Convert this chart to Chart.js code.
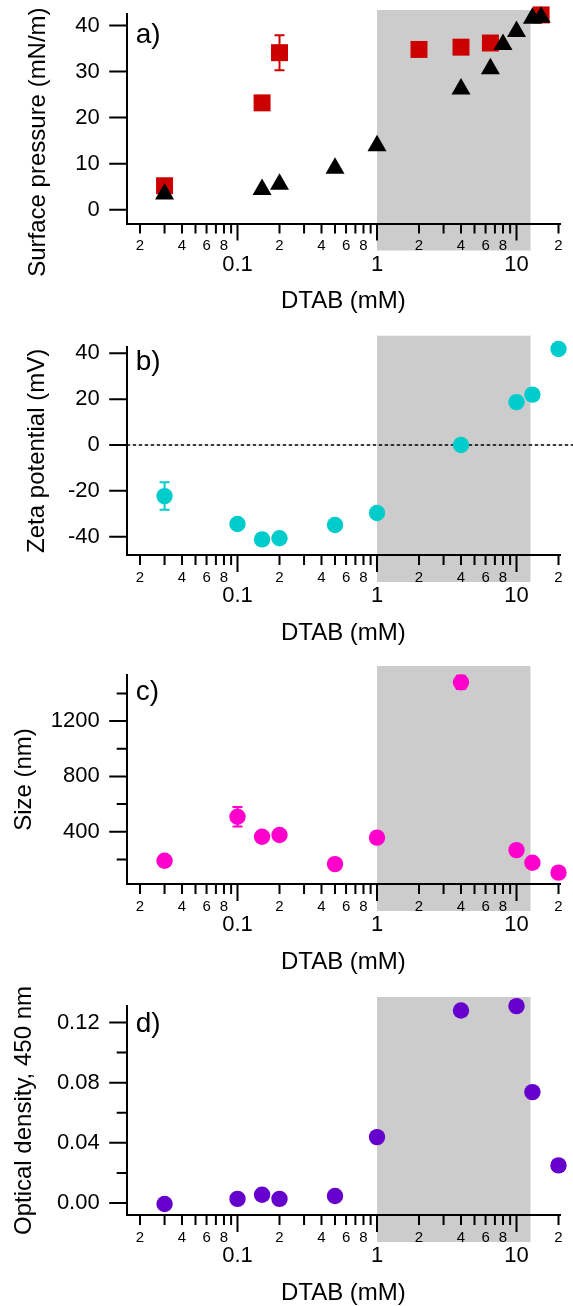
<!DOCTYPE html>
<html lang="en">
<head>
<meta charset="utf-8">
<title>DTAB series</title>
<script src="https://cdn.jsdelivr.net/npm/chart.js@4.4.1/dist/chart.umd.min.js"></script>
<style>
  html, body { margin: 0; padding: 0; background: #fff; overflow: hidden; }
  #figure { position: relative; width: 573px; height: 1306px; overflow: hidden; }
  #figure canvas { position: absolute; left: 0; }
</style>
</head>
<body>
<div id="figure"></div>
<script>
// surface pressure, mN/m
const concSquares = [0.03, 0.15, 0.2, 2, 4, 6.5, 15];
const pressureSquares = [5.2, 23.2, 34.1, 34.8, 35.3, 36.2, 42.3];
const pressureSquaresErr = [0, 0, 3.8, 0, 0, 0, 0];
const concTriangles = [0.03, 0.15, 0.2, 0.5, 1, 4, 6.5, 8, 10, 13, 15];
const pressureTriangles = [3.4, 4.4, 5.5, 9.0, 13.9, 26.2, 30.6, 35.9, 38.7, 41.6, 41.8];

// particle measurements share one concentration list
const concParticles = [0.03, 0.1, 0.15, 0.2, 0.5, 1, 4, 10, 13, 20];
const zetaPotential = [-22.3, -34.5, -41.2, -40.7, -34.9, -29.7, 0, 18.7, 22.0, 41.9];
const zetaErr = [6, 0, 0, 0, 0, 0, 0, 0, 0, 0];
const particleSize = [190, 508, 364, 376, 166, 357, 1480, 267, 176, 104];
const particleSizeErr = [0, 70, 0, 0, 0, 0, 48, 0, 0, 0];
const opticalDensity = [-0.0007, 0.0027, 0.0055, 0.0027, 0.0046, 0.0438, 0.128, 0.1309, 0.0737, 0.025];

// grey band, mM
const shadedRange = [1, 12.6];

// log x axis
const xRange = [0.01606, 20.5];
const xDecades = [0.01, 0.1, 1, 10];
const xMantissas = [1, 2, 3, 4, 5, 6, 7, 8, 9];
const xLabelledMantissas = [2, 4, 6, 8];

// y axes: range, labelled ticks, unlabelled ticks
const yRangeA = [-3, 42.5];
const yTicksA = [0, 10, 20, 30, 40];
const yMinorA = [];
const yRangeB = [-48, 42.9];
const yTicksB = [-40, -20, 0, 20, 40];
const yMinorB = [];
const yRangeC = [22, 1533];
const yTicksC = [400, 800, 1200];
const yMinorC = [200, 600, 1000, 1400];
const yRangeD = [-0.008, 0.131];
const yTicksD = [0, 0.04, 0.08, 0.12];
const yMinorD = [0.02, 0.06, 0.1];

const FONT = "'Liberation Sans', Arial, Helvetica, sans-serif";
const Y_AXIS_WIDTH = 126.7;
const X_AXIS_HEIGHT = 100;
const PAD_TOP = 20;
const PAD_RIGHT = 13;

Chart.defaults.font.family = FONT;
Chart.defaults.color = "#000";

const isDecade = (v) => Math.abs(Math.log10(v) - Math.round(Math.log10(v))) < 1e-9;

const xTickValues = [];
xDecades.forEach((d) => {
    xMantissas.forEach((m) => {
        const v = Number((m * d).toPrecision(3));
        if (v >= xRange[0] && v <= xRange[1]) xTickValues.push(v);
    });
});

function xTickLabel(v) {
    if (isDecade(v)) return ["", String(v)];
    const m = Math.round(v / Math.pow(10, Math.floor(Math.log10(v) + 1e-9)));
    return xLabelledMantissas.includes(m) ? String(m) : "";
}

const points = (xs, ys) => xs.map((x, i) => ({ x, y: ys[i] }));

function clearPadding(scale) {
    scale.paddingTop = 0;
    scale.paddingBottom = 0;
    scale.paddingLeft = 0;
    scale.paddingRight = 0;
}

// shaded band, zero line, error bars, outward ticks and panel letters
const igorStyle = {
    id: "igorStyle",
    beforeDraw(chart, args, opts) {
        const { ctx, chartArea: area, scales: { x } } = chart;
        const left = x.getPixelForValue(shadedRange[0]);
        const right = x.getPixelForValue(shadedRange[1]);
        ctx.save();
        ctx.fillStyle = "#cccccc";
        ctx.fillRect(left, area.top - opts.shadeAbove, right - left,
            area.bottom - area.top + opts.shadeAbove + opts.shadeBelow);
        ctx.restore();
    },
    beforeDatasetsDraw(chart, args, opts) {
        const { ctx, chartArea: area, scales: { y } } = chart;
        ctx.save();
        if (opts.zeroLine) {
            const y0 = y.getPixelForValue(0);
            ctx.strokeStyle = "#000";
            ctx.lineWidth = 1.5;
            ctx.setLineDash([3.5, 2.5]);
            ctx.beginPath();
            ctx.moveTo(area.left, y0);
            ctx.lineTo(chart.width, y0);
            ctx.stroke();
            ctx.setLineDash([]);
        }
        chart.data.datasets.forEach((ds, i) => {
            if (!ds.errors) return;
            const meta = chart.getDatasetMeta(i);
            ctx.strokeStyle = ds.backgroundColor;
            ctx.lineWidth = 2;
            meta.data.forEach((pt, j) => {
                const err = ds.errors[j];
                if (!err) return;
                const v = ds.data[j].y;
                const top = y.getPixelForValue(v + err);
                const bottom = y.getPixelForValue(v - err);
                ctx.beginPath();
                ctx.moveTo(pt.x, top);
                ctx.lineTo(pt.x, bottom);
                ctx.moveTo(pt.x - 5, top);
                ctx.lineTo(pt.x + 5, top);
                ctx.moveTo(pt.x - 5, bottom);
                ctx.lineTo(pt.x + 5, bottom);
                ctx.stroke();
            });
        });
        ctx.restore();
    },
    afterDraw(chart, args, opts) {
        const { ctx, chartArea: area, scales: { x, y } } = chart;
        ctx.save();
        ctx.strokeStyle = "#000";
        ctx.lineWidth = 2;
        ctx.beginPath();
        x.ticks.forEach((t) => {
            const px = x.getPixelForValue(t.value);
            ctx.moveTo(px, area.bottom);
            ctx.lineTo(px, area.bottom + (t.major ? 17 : 10));
        });
        y.ticks.forEach((t) => {
            const py = y.getPixelForValue(t.value);
            ctx.moveTo(area.left, py);
            ctx.lineTo(area.left - (t.major ? 17.5 : 10), py);
        });
        ctx.stroke();
        ctx.fillStyle = "#000";
        ctx.font = "28px " + FONT;
        ctx.textBaseline = "alphabetic";
        ctx.textAlign = "left";
        ctx.fillText(opts.letter, area.left + 9, area.top + opts.letterDrop);
        ctx.restore();
    },
};

const panels = [
    {
        letter: "a)", letterDrop: 29,
        // trailing spaces push the centred label down along the axis
        title: "Surface pressure (mN/m)       ", titlePad: 23.5,
        range: yRangeA, ticks: yTicksA, minor: yMinorA, digits: 0,
        areaTop: 14, areaHeight: 209.5, shadeAbove: 4, zeroLine: false,
        datasets: [
            {
                data: points(concTriangles, pressureTriangles),
                pointStyle: "triangle", pointRadius: 11,
                backgroundColor: "#000000", borderWidth: 0,
            },
            {
                data: points(concSquares, pressureSquares),
                errors: pressureSquaresErr,
                pointStyle: "rect", pointRadius: 12,
                backgroundColor: "#cc0000", borderWidth: 0,
            },
        ],
    },
    {
        letter: "b)", letterDrop: 23,
        title: "Zeta potential (mV)", titlePad: 23,
        range: yRangeB, ticks: yTicksB, minor: yMinorB, digits: 0,
        areaTop: 346.7, areaHeight: 208.3, shadeAbove: 11, zeroLine: true,
        datasets: [
            {
                data: points(concParticles, zetaPotential),
                errors: zetaErr,
                pointStyle: "circle", pointRadius: 8.2,
                backgroundColor: "#00cccc", borderWidth: 0,
            },
        ],
    },
    {
        letter: "c)", letterDrop: 25,
        title: "Size (nm)", titlePad: 10,
        range: yRangeC, ticks: yTicksC, minor: yMinorC, digits: 0,
        areaTop: 675, areaHeight: 209, shadeAbove: 9, zeroLine: false,
        datasets: [
            {
                data: points(concParticles, particleSize),
                errors: particleSizeErr,
                pointStyle: "circle", pointRadius: 8.2,
                backgroundColor: "#ff00cc", borderWidth: 0,
            },
        ],
    },
    {
        letter: "d)", letterDrop: 26,
        title: "Optical density, 450 nm", titlePad: 9.5,
        range: yRangeD, ticks: yTicksD, minor: yMinorD, digits: 2,
        areaTop: 1006, areaHeight: 209, shadeAbove: 9, zeroLine: false,
        datasets: [
            {
                data: points(concParticles, opticalDensity),
                pointStyle: "circle", pointRadius: 8.2,
                backgroundColor: "#6600cc", borderWidth: 0,
            },
        ],
    },
];

const figure = document.getElementById("figure");

panels.forEach((p) => {
    const canvasTop = Math.floor(p.areaTop) - PAD_TOP;
    const padTop = p.areaTop - canvasTop;
    const height = Math.ceil(padTop + p.areaHeight + X_AXIS_HEIGHT);
    const padBottom = height - padTop - p.areaHeight - X_AXIS_HEIGHT;

    const canvas = document.createElement("canvas");
    canvas.width = 573;
    canvas.height = height;
    canvas.style.top = canvasTop + "px";
    canvas.style.width = "573px";
    canvas.style.height = height + "px";
    figure.appendChild(canvas);

    const yTickList = p.ticks.map((v) => ({ value: v, major: true }))
        .concat(p.minor.map((v) => ({ value: v, major: false })))
        .sort((a, b) => a.value - b.value);

    p.datasets.forEach((ds) => { ds.clip = false; });

    new Chart(canvas.getContext("2d"), {
        type: "scatter",
        data: { datasets: p.datasets },
        plugins: [igorStyle],
        options: {
            responsive: false,
            animation: false,
            events: [],
            layout: { padding: { top: padTop, right: PAD_RIGHT, bottom: padBottom, left: 0 } },
            plugins: {
                legend: { display: false },
                tooltip: { enabled: false },
                igorStyle: {
                    letter: p.letter,
                    letterDrop: p.letterDrop,
                    shadeAbove: p.shadeAbove,
                    shadeBelow: 27,
                    zeroLine: p.zeroLine,
                },
            },
            scales: {
                x: {
                    type: "logarithmic",
                    min: xRange[0],
                    max: xRange[1],
                    afterBuildTicks: (s) => {
                        s.ticks = xTickValues.map((v) => ({ value: v, major: isDecade(v) }));
                    },
                    afterFit: (s) => { s.height = X_AXIS_HEIGHT; clearPadding(s); },
                    grid: { display: false, drawTicks: false },
                    border: { display: true, color: "#000", width: 2 },
                    ticks: {
                        autoSkip: false,
                        maxRotation: 0,
                        minRotation: 0,
                        padding: 13.7,
                        color: "#000",
                        font: (c) => (c.tick && c.tick.major
                            ? { size: 22, lineHeight: 0.827 }
                            : { size: 15, lineHeight: 1.2 }),
                        callback: (v) => xTickLabel(v),
                    },
                    title: {
                        display: true,
                        text: "DTAB (mM)",
                        color: "#000",
                        font: { size: 24 },
                        padding: { top: 0, bottom: 7.6 },
                    },
                },
                y: {
                    min: p.range[0],
                    max: p.range[1],
                    afterBuildTicks: (s) => { s.ticks = yTickList.map((t) => ({ ...t })); },
                    afterFit: (s) => { s.width = Y_AXIS_WIDTH; clearPadding(s); },
                    grid: { display: false, drawTicks: false },
                    border: { display: true, color: "#000", width: 2 },
                    ticks: {
                        autoSkip: false,
                        padding: 27,
                        color: "#000",
                        font: { size: 22 },
                        callback: (v, i, ticks) => (ticks[i].major ? v.toFixed(p.digits) : ""),
                    },
                    title: {
                        display: true,
                        text: p.title,
                        color: "#000",
                        font: { size: 24 },
                        padding: { top: p.titlePad, bottom: 0 },
                    },
                },
            },
        },
    });
});
</script>
</body>
</html>
